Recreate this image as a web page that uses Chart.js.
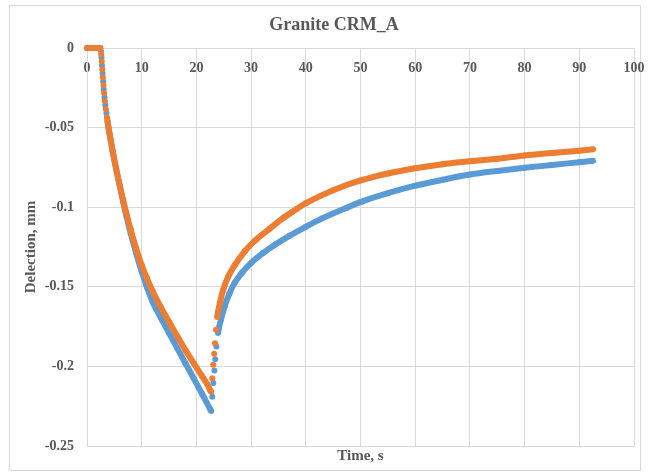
<!DOCTYPE html>
<html>
<head>
<meta charset="utf-8">
<script src="https://cdn.jsdelivr.net/npm/chart.js@4.4.1/dist/chart.umd.min.js"></script>
<style>
  html, body { margin: 0; padding: 0; background: #fff; }
  #wrap { width: 649px; height: 475px; }
</style>
</head>
<body>
<div id="wrap"><canvas id="deflChart" width="649" height="475"></canvas></div>
<script>
// readings (time in s, deflection in mm)
const blueTime = [0, 0.5, 1.0, 1.5, 2.0, 2.4,
  2.55, 2.65, 2.75, 2.85, 2.95, 3.05, 3.2, 3.35, 3.55, 3.75,
  4.2, 4.7, 5.3, 6.0, 6.6, 7.2, 8.0, 9.0, 10.0, 11.0, 12.0, 13.5, 15.0, 16.5, 18.0, 19.5, 21.0, 22.6,
  22.7, 22.9, 23.1, 23.3, 23.45, 23.65, 23.95,
  24.5, 25.2, 26.0, 27.0, 28.5, 30.0, 32.2, 34.4, 37.0, 40.0, 43.0, 47.5, 50.0, 55.0, 60.0,
  65.0, 70.0, 75.0, 80.0, 85.0, 90.0, 92.5];
const blueDefl = [0, 0, 0, 0, 0, 0,
  -0.002, -0.006, -0.011, -0.016, -0.021, -0.026, -0.031, -0.036, -0.041, -0.046,
  -0.0555, -0.065, -0.0755, -0.087, -0.0965, -0.1055, -0.1165, -0.129, -0.1405, -0.1505, -0.1595, -0.1695, -0.179, -0.1885, -0.198, -0.2075, -0.217, -0.2274,
  -0.228, -0.219, -0.2105, -0.2025, -0.1955, -0.1875, -0.179,
  -0.1705, -0.162, -0.1545, -0.1475, -0.1405, -0.135, -0.1287, -0.1235, -0.118, -0.1123, -0.107, -0.1003, -0.0968, -0.0912, -0.0865,
  -0.0828, -0.0795, -0.0772, -0.0752, -0.0735, -0.0717, -0.0708];

const orangeTime = [0, 0.5, 1.0, 1.5, 2.0, 2.45,
  2.6, 2.7, 2.8, 2.9, 3.0, 3.12, 3.27, 3.45, 3.65,
  4.2, 4.7, 5.3, 6.0, 6.6, 7.2, 8.0, 9.0, 10.0, 11.0, 12.0, 13.5, 15.0, 16.5, 18.0, 19.5, 21.0, 22.0, 22.6,
  22.7, 22.9, 23.08, 23.25, 23.4, 23.58, 23.8,
  24.3, 24.9, 25.8, 27.0, 28.9, 30.7, 33.4, 36.0, 38.4, 40.0, 45.0, 50.0, 55.0, 60.0,
  65.0, 70.0, 75.0, 80.0, 85.0, 90.0, 92.5];
const orangeDefl = [0, 0, 0, 0, 0, 0,
  -0.004, -0.0085, -0.0135, -0.0185, -0.0235, -0.0285, -0.0335, -0.0385, -0.0435,
  -0.0555, -0.065, -0.0755, -0.0865, -0.0955, -0.104, -0.1143, -0.126, -0.1365, -0.145, -0.1528, -0.1628, -0.172, -0.181, -0.1898, -0.198, -0.206, -0.2113, -0.2155,
  -0.2159, -0.2075, -0.199, -0.192, -0.1855, -0.177, -0.169,
  -0.16, -0.152, -0.1437, -0.1365, -0.1275, -0.121, -0.1135, -0.1065, -0.101, -0.0975, -0.0893, -0.0832, -0.0788, -0.0755,
  -0.073, -0.0712, -0.0695, -0.0675, -0.066, -0.0645, -0.0636];

const xTickValues = [0, 10, 20, 30, 40, 50, 60, 70, 80, 90, 100];
const yTickValues = [0, -0.05, -0.1, -0.15, -0.2, -0.25];
const yTickLabels = ['0', '-0.05', '-0.1', '-0.15', '-0.2', '-0.25'];

const toPoints = (xs, ys) => xs.map((x, i) => ({ x: x, y: ys[i] }));

const gray = '#595959';
const gridColor = '#d9d9d9';
const serif = '"Liberation Serif", "Times New Roman", serif';

// closely spaced samples are shown as separate dots, like the reference
const dotGap = ctx => (ctx.p1.parsed.x - ctx.p0.parsed.x) < 0.35 ? 'rgba(0,0,0,0)' : undefined;

// keep the x axes from pushing the plot edge in for the "100" label
const noSidePad = s => { s.paddingLeft = 0; s.paddingRight = 0; };

const frame = {
  id: 'frame',
  beforeDraw(chart) {
    const c = chart.ctx;
    c.save();
    c.fillStyle = '#fff';
    c.fillRect(0, 0, chart.width, chart.height);
    c.strokeStyle = gridColor;
    c.lineWidth = 1;
    c.strokeRect(9.5, 5.5, 631, 465);
    c.fillStyle = gray;
    c.font = 'bold 18px ' + serif;
    c.textAlign = 'center';
    c.textBaseline = 'middle';
    c.fillText('Granite CRM_A', 334, 25);
    c.restore();
  }
};

new Chart(document.getElementById('deflChart'), {
  type: 'line',
  data: {
    datasets: [{
      label: 'B',
      data: toPoints(orangeTime, orangeDefl),
      borderColor: '#ED7D31',
      backgroundColor: '#ED7D31',
      borderWidth: 6,
      pointRadius: 3,
      pointBorderWidth: 0,
      cubicInterpolationMode: 'monotone',
      segment: { borderColor: dotGap },
      clip: false
    }, {
      label: 'A',
      data: toPoints(blueTime, blueDefl),
      borderColor: '#5B9BD5',
      backgroundColor: '#5B9BD5',
      borderWidth: 6,
      pointRadius: 3,
      pointBorderWidth: 0,
      cubicInterpolationMode: 'monotone',
      segment: { borderColor: dotGap },
      clip: false
    }]
  },
  options: {
    responsive: false,
    animation: false,
    layout: { padding: { left: 18, right: 15, top: 48, bottom: 5 } },
    plugins: { legend: { display: false }, tooltip: { enabled: false }, title: { display: false } },
    scales: {
      x: {
        type: 'linear',
        position: { y: 0 },
        min: 0, max: 100,
        afterBuildTicks: s => { s.ticks = xTickValues.map(v => ({ value: v })); },
        afterFit: noSidePad,
        grid: { color: gridColor, drawTicks: false },
        border: { color: gridColor },
        ticks: { color: gray, padding: 12, maxRotation: 0, font: { family: serif, size: 14, weight: 'bold' } }
      },
      x2: {
        type: 'linear',
        position: 'bottom',
        min: 0, max: 100,
        grid: { display: false },
        border: { display: false },
        ticks: { display: false },
        afterFit: s => { s.height = 24; noSidePad(s); },
        title: { display: true, text: 'Time, s', color: gray, padding: { top: 0, bottom: 5 },
          font: { family: serif, size: 15, weight: 'bold' } }
      },
      y: {
        type: 'linear',
        position: 'left',
        min: -0.25, max: 0,
        afterBuildTicks: s => { s.ticks = yTickValues.map(v => ({ value: v })); },
        afterFit: s => { s.width = 69; },
        grid: { color: gridColor, drawTicks: false },
        border: { color: gridColor },
        ticks: {
          color: gray, padding: 13,
          font: { family: serif, size: 14, weight: 'bold' },
          callback: (v, i) => yTickLabels[i]
        },
        title: { display: true, text: 'Delection, mm', color: gray, padding: { top: 4, bottom: 0 },
          font: { family: serif, size: 15, weight: 'bold' } }
      }
    }
  },
  plugins: [frame]
});
</script>
</body>
</html>
